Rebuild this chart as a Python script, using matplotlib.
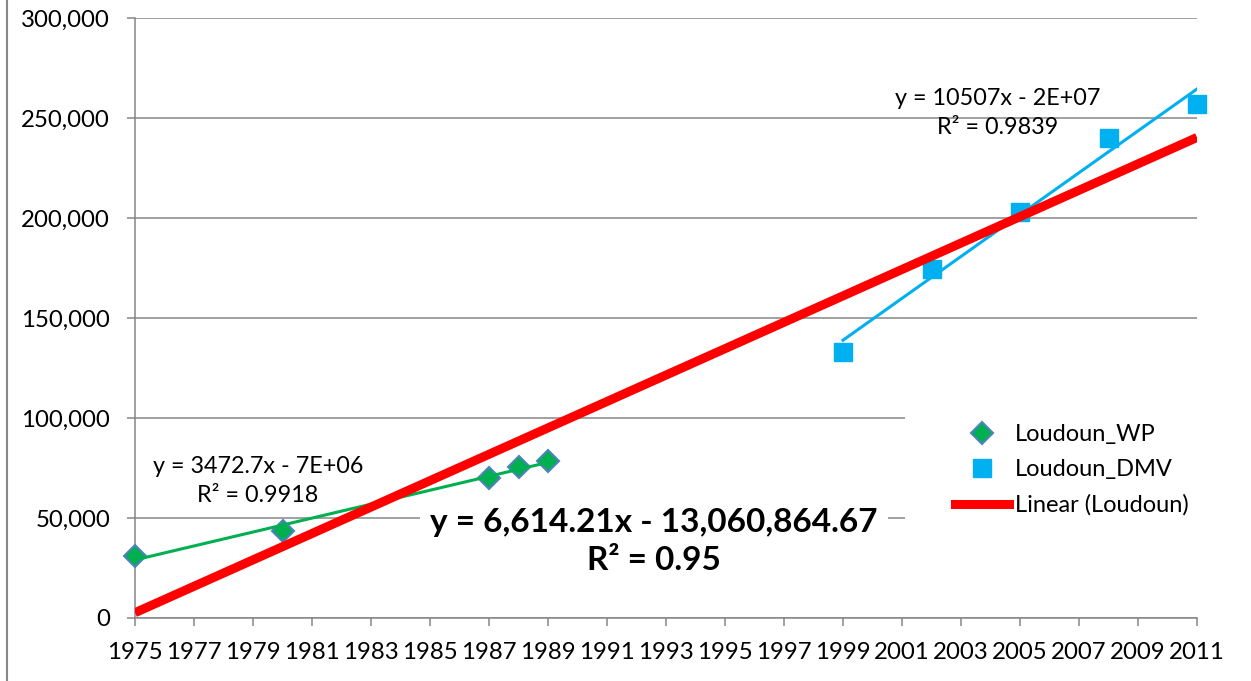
import numpy as np
import matplotlib
matplotlib.use("Agg")
import matplotlib.pyplot as plt
from matplotlib.lines import Line2D
from matplotlib.patches import Rectangle
from matplotlib.ticker import FuncFormatter

plt.rcParams['font.family'] = ['Lato', 'DejaVu Sans']

# data
wp_years = [1975, 1980, 1987, 1988, 1989]
wp_values = [31000, 43500, 70000, 75500, 78500]
dmv_years = [1999, 2002, 2005, 2008, 2011]
dmv_values = [133000, 174750, 203250, 240250, 257250]

wp_label = "y = 3472.7x - 7E+06\nR² = 0.9918"
dmv_label = "y = 10507x - 2E+07\nR² = 0.9839"
all_label = "y = 6,614.21x - 13,060,864.67\nR² = 0.95"

grid_col = '#868686'
green = '#00B050'
blue = '#00B0F0'

fig = plt.figure(figsize=(12.51, 6.81), dpi=100)
ax = fig.add_axes([135/1251, 1 - 618/681, (1197-135)/1251, 600/681])

# series markers
ax.plot(wp_years, wp_values, 'D', ms=11, mfc=green, mec='#4F81BD', mew=1.5, zorder=3, clip_on=False)
ax.plot(dmv_years, dmv_values, 's', ms=13.5, color=blue, zorder=3, clip_on=False)

# trendlines
wp_fit = np.polyfit(wp_years, wp_values, 1)
xs = np.array([wp_years[0], wp_years[-1]])
ax.plot(xs, np.polyval(wp_fit, xs), color=green, lw=2.2, zorder=4)

dmv_fit = np.polyfit(dmv_years, dmv_values, 1)
xs = np.array([dmv_years[0], dmv_years[-1]])
ax.plot(xs, np.polyval(dmv_fit, xs), color=blue, lw=2.2, zorder=4)

all_fit = np.polyfit(wp_years + dmv_years, wp_values + dmv_values, 1)
xs = np.array([1975, 2011])
ax.plot(xs, np.polyval(all_fit, xs), color='#FF0000', lw=6.5, solid_capstyle='butt', zorder=5)

# axes
ax.set_xlim(1975, 2011)
ax.set_ylim(0, 300000)
ax.set_xticks(np.arange(1975, 2012, 2))
ax.set_yticks(np.arange(0, 300001, 50000))
ax.yaxis.set_major_formatter(FuncFormatter(lambda v, p: "{:,.0f}".format(v)))
ax.grid(axis='y', color=grid_col, lw=1.1)
ax.set_axisbelow(True)
for s in ['top', 'right']:
    ax.spines[s].set_visible(False)
for s in ['left', 'bottom']:
    ax.spines[s].set_color(grid_col)
    ax.spines[s].set_linewidth(1.1)
ax.tick_params(axis='both', direction='out', length=6, width=1.1, color=grid_col,
               labelsize=17.3, labelcolor='black')
ax.tick_params(axis='y', pad=12)
ax.tick_params(axis='x', pad=11)

# trendline labels
ax.text(1979.17, 68500, wp_label, ha='center', va='center', fontsize=16.8, linespacing=1.45)
ax.text(2004.25, 252500, dmv_label, ha='center', va='center', fontsize=16.8, linespacing=1.45)
ax.text(1992.6, 38300, all_label, ha='center', va='center', fontsize=24, fontweight='bold',
        linespacing=1.38, zorder=1.5,
        bbox=dict(boxstyle='square', pad=0.3, facecolor='white', edgecolor='none'))

# legend (white box behind it hides the gridlines)
ax.add_patch(Rectangle((0.725, 0.15), 0.3, 0.2, transform=ax.transAxes,
                       facecolor='white', edgecolor='none', zorder=1, clip_on=False))
handles = [
    Line2D([], [], ls='none', marker='D', ms=11, mfc=green, mec='#4F81BD', mew=1.5),
    Line2D([], [], ls='none', marker='s', ms=13.5, color=blue),
    Line2D([], [], color='#FF0000', lw=6.5),
]
ax.legend(handles, ['Loudoun_WP', 'Loudoun_DMV', 'Linear (Loudoun)'],
          loc='upper left', bbox_to_anchor=((955-135)/1062, (618-424)/600),
          frameon=False, fontsize=17, borderpad=0, borderaxespad=0, handlelength=2.3,
          handletextpad=0.25, labelspacing=0.6, numpoints=1)

# outer chart border on the left edge
fig.add_artist(Line2D([7/1251, 7/1251], [0, 1], color=grid_col, lw=1.5))

fig.savefig('out.png', dpi=100)
